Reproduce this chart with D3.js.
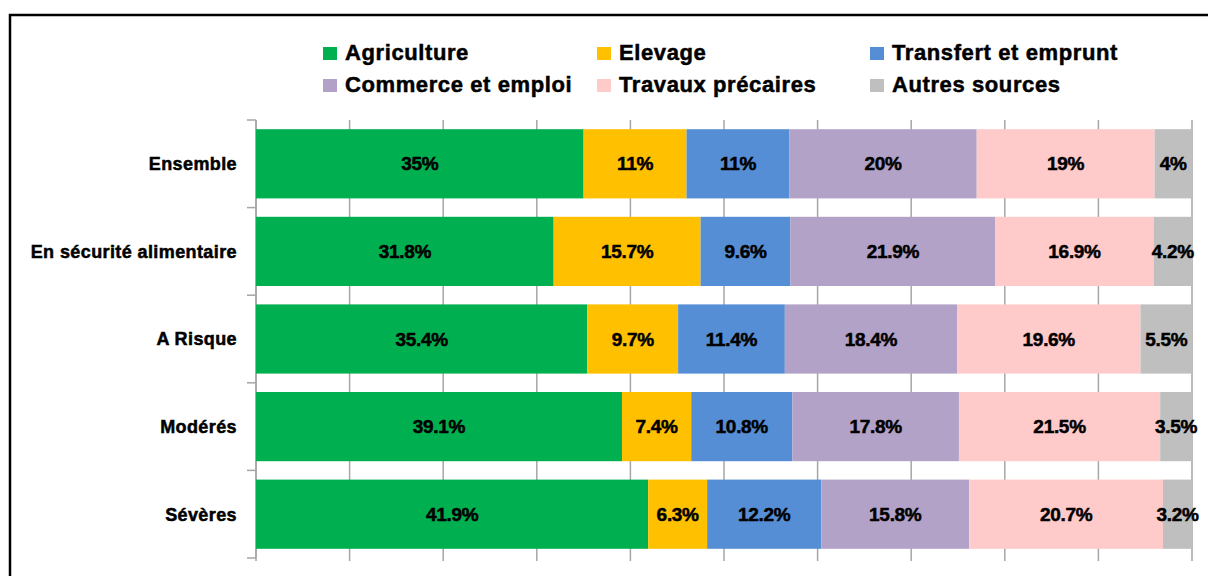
<!DOCTYPE html>
<html>
<head>
<meta charset="utf-8">
<script src="https://cdn.jsdelivr.net/npm/d3@7"></script>
<style>
  body { margin: 0; background: #fff; }
  text { font-family: "Liberation Sans", Arial, sans-serif; font-weight: bold; fill: #000; stroke: #000; stroke-width: 0.5px; }
</style>
</head>
<body>
<div id="chart"></div>
<script>
// categories (rows, top to bottom)
var categories = ["Ensemble", "En sécurité alimentaire", "A Risque", "Modérés", "Sévères"];

// series, in stacking order
var series = ["Agriculture", "Elevage", "Transfert et emprunt", "Commerce et emploi", "Travaux précaires", "Autres sources"];
var colors = ["#00B050", "#FFC000", "#558ED5", "#B3A2C7", "#FFCACA", "#BFBFBF"];

// values (%) per series, one per category
var agriculture = [35, 31.8, 35.4, 39.1, 41.9];
var elevage     = [11, 15.7, 9.7, 7.4, 6.3];
var transfert   = [11, 9.6, 11.4, 10.8, 12.2];
var commerce    = [20, 21.9, 18.4, 17.8, 15.8];
var travaux     = [19, 16.9, 19.6, 21.5, 20.7];
var autres      = [4, 4.2, 5.5, 3.5, 3.2];

// labels shown on bars
var labels = [
  ["35%", "11%", "11%", "20%", "19%", "4%"],
  ["31.8%", "15.7%", "9.6%", "21.9%", "16.9%", "4.2%"],
  ["35.4%", "9.7%", "11.4%", "18.4%", "19.6%", "5.5%"],
  ["39.1%", "7.4%", "10.8%", "17.8%", "21.5%", "3.5%"],
  ["41.9%", "6.3%", "12.2%", "15.8%", "20.7%", "3.2%"]
];

var allValues = [agriculture, elevage, transfert, commerce, travaux, autres];

var width = 1208, height = 576;
var plotLeft = 256, plotRight = 1192, plotTop = 120, plotBottom = 558;

var svg = d3.select("#chart").append("svg")
  .attr("width", width)
  .attr("height", height);

// chart frame
svg.append("rect")
  .attr("x", 10).attr("y", 15)
  .attr("width", 1300).attr("height", 700)
  .attr("fill", "none")
  .attr("stroke", "#000")
  .attr("stroke-width", 2.5);

var x = d3.scaleLinear().domain([0, 100]).range([plotLeft, plotRight]).clamp(true);
var y = d3.scaleBand().domain(categories).range([plotTop, plotBottom]).paddingInner(0.21).paddingOuter(0.105);
var yBand = d3.scaleBand().domain(categories).range([plotTop, plotBottom]);

// gridlines
svg.append("g")
  .selectAll("line")
  .data(d3.range(0, 101, 10))
  .enter().append("line")
  .attr("x1", d => x(d)).attr("x2", d => x(d))
  .attr("y1", plotTop).attr("y2", plotBottom + 3)
  .attr("stroke", "#A6A6A6")
  .attr("stroke-width", 1.5);

// left axis: ticks between categories
svg.append("g")
  .selectAll("line")
  .data(d3.range(categories.length + 1))
  .enter().append("line")
  .attr("x1", plotLeft - 9).attr("x2", plotLeft)
  .attr("y1", d => plotTop + d * yBand.step())
  .attr("y2", d => plotTop + d * yBand.step())
  .attr("stroke", "#A6A6A6")
  .attr("stroke-width", 1.5);

svg.append("line")
  .attr("x1", plotLeft).attr("x2", plotLeft)
  .attr("y1", plotTop).attr("y2", plotBottom)
  .attr("stroke", "#A6A6A6")
  .attr("stroke-width", 1.5);

// stacked data
var rows = categories.map(function(c, i) {
  var r = { cat: c };
  series.forEach(function(s, j) { r[s] = allValues[j][i]; });
  return r;
});
var stacked = d3.stack().keys(series)(rows);

var layers = svg.append("g").selectAll("g")
  .data(stacked)
  .enter().append("g")
  .attr("fill", (d, i) => colors[i]);

layers.selectAll("rect")
  .data(d => d)
  .enter().append("rect")
  .attr("x", d => x(d[0]))
  .attr("y", d => y(d.data.cat))
  .attr("width", d => x(d[1]) - x(d[0]))
  .attr("height", y.bandwidth());

// bar labels
stacked.forEach(function(layer, j) {
  svg.append("g").selectAll("text")
    .data(layer)
    .enter().append("text")
    .attr("x", d => (x(d[0]) + x(d[1])) / 2)
    .attr("y", d => y(d.data.cat) + y.bandwidth() / 2)
    .attr("dy", "0.35em")
    .attr("text-anchor", "middle")
    .style("font-size", "19px")
    .style("letter-spacing", "-0.3px")
    .text((d, i) => labels[i][j]);
});

// category labels
svg.append("g").selectAll("text")
  .data(categories)
  .enter().append("text")
  .attr("x", plotLeft - 19)
  .attr("y", d => y(d) + y.bandwidth() / 2)
  .attr("dy", "0.35em")
  .attr("text-anchor", "end")
  .style("font-size", "18px")
  .style("letter-spacing", "0.4px")
  .text(d => d);

// legend
var legendX = [323, 597, 870];
var legendY = [47, 79];
var legend = svg.append("g").selectAll("g")
  .data(series)
  .enter().append("g")
  .attr("transform", (d, i) => "translate(" + legendX[i % 3] + "," + legendY[Math.floor(i / 3)] + ")");

legend.append("rect")
  .attr("width", 14).attr("height", 13)
  .attr("fill", (d, i) => colors[i]);

legend.append("text")
  .attr("x", 22)
  .attr("y", 13)
  .style("font-size", "22px")
  .style("letter-spacing", "0.6px")
  .text(d => d);
</script>
</body>
</html>
